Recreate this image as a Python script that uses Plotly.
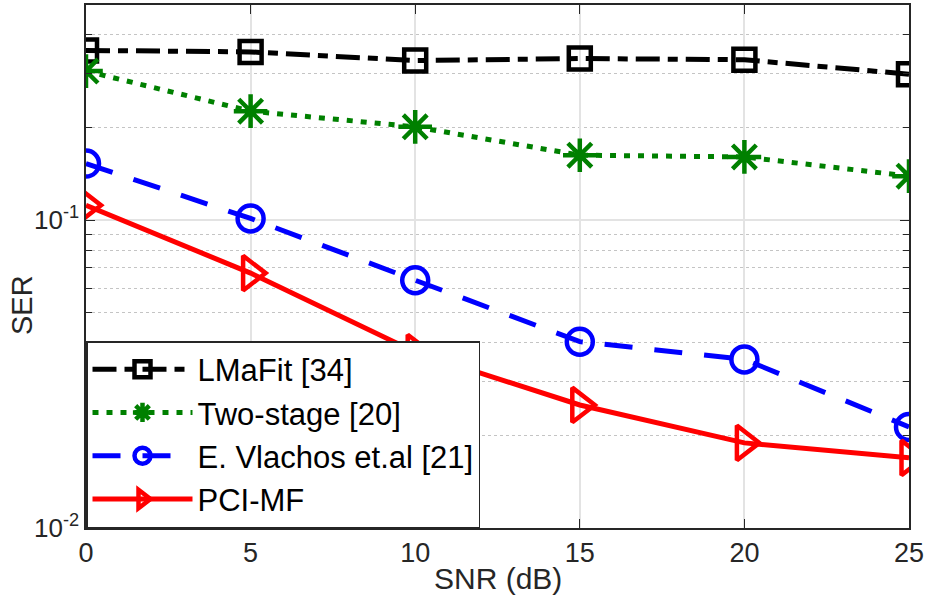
import plotly.graph_objects as go

snr = [0, 5, 10, 15, 20, 25]
lmafit = [0.356, 0.352, 0.330, 0.335, 0.332, 0.298]
two_stage = [0.305, 0.226, 0.201, 0.1626, 0.1605, 0.139]
vlachos = [0.1527, 0.1013, 0.0638, 0.0403, 0.0353, 0.0213]
pci_mf = [0.1118, 0.0673, 0.0373, 0.0251, 0.0189, 0.0169]

names = ["LMaFit [34]", "Two-stage [20]", "E. Vlachos et.al [21]", "PCI-MF"]
colors = ["black", "#008000", "#0000ff", "#ff0000"]
dashes = ["24px,8px,10px,8px", "6px,8px", "28px,22px", "solid"]
symbols = ["square-open", "asterisk-open", "circle-open", "triangle-right-open"]
sizes = [22, 28, 26, 30]
series = [lmafit, two_stage, vlachos, pci_mf]

FONT = "Liberation Sans, Arial, Helvetica, sans-serif"

fig = go.Figure()
for name, ys, c, d, s, sz in zip(names, series, colors, dashes, symbols, sizes):
    fig.add_trace(go.Scatter(
        x=snr, y=ys, name=name, mode="lines+markers",
        line=dict(color=c, width=5, dash=d),
        marker=dict(symbol=s, size=sz, color=c, line=dict(color=c, width=4.5)),
    ))

minor_vals = [0.02, 0.03, 0.04, 0.05, 0.06, 0.07, 0.08, 0.09, 0.2, 0.3, 0.4, 0.5]

fig.update_layout(
    width=932, height=598,
    margin=dict(l=86, r=23, t=5, b=70, autoexpand=False),
    paper_bgcolor="white", plot_bgcolor="white",
    font=dict(family=FONT, size=27, color="#262626"),
    showlegend=True,
    legend=dict(
        x=0, y=0, xanchor="left", yanchor="bottom",
        bgcolor="white", bordercolor="#262626", borderwidth=1.5,
        font=dict(family=FONT, size=31, color="black"),
        itemwidth=100, tracegroupgap=0,
    ),
    xaxis=dict(
        range=[0, 25], tickvals=[0, 5, 10, 15, 20, 25],
        ticks="inside", ticklen=9, tickwidth=1.2, tickcolor="#262626",
        showline=True, linecolor="#262626", linewidth=1.5, mirror="ticks",
        showgrid=True, gridcolor="#e3e3e3", gridwidth=1.5,
        zeroline=False,
        tickfont=dict(size=27, color="#262626"),
    ),
    yaxis=dict(
        type="log", range=[-2, 0.69897 - 1],
        tickvals=[0.01, 0.1], ticktext=["10<sup>-2</sup>", "10<sup>-1</sup>"],
        ticks="inside", ticklen=9, tickwidth=1.2, tickcolor="#262626",
        showline=True, linecolor="#262626", linewidth=1.5, mirror="ticks",
        showgrid=True, gridcolor="#e3e3e3", gridwidth=1.5,
        zeroline=False,
        tickfont=dict(size=26, color="#262626"),
        minor=dict(tickvals=minor_vals, ticks="inside", ticklen=6,
                   tickcolor="#262626", showgrid=True,
                   gridcolor="#c4c4c4", griddash="dot", gridwidth=1),
    ),
    annotations=[
        dict(text="SNR (dB)", x=0.5, y=-0.062, xref="paper", yref="paper",
             xanchor="center", yanchor="top", showarrow=False,
             font=dict(family=FONT, size=30, color="#262626")),
        dict(text="SER", x=-0.078, y=0.426, xref="paper", yref="paper",
             xanchor="center", yanchor="middle", showarrow=False, textangle=-90,
             font=dict(family=FONT, size=29, color="#262626")),
    ],
)

fig.write_html("out.html", config={"displayModeBar": False},
               post_script="document.body.style.margin='0';document.body.style.padding='0';")
